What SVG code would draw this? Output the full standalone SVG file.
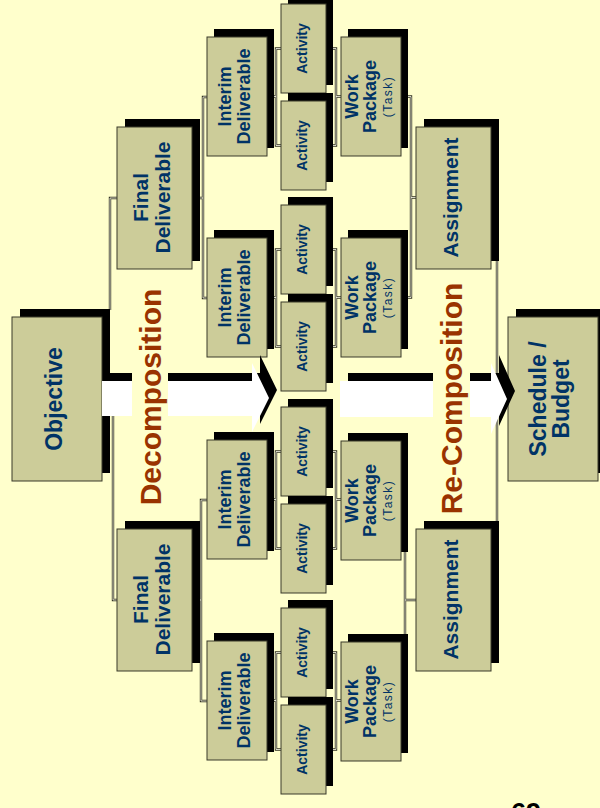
<svg xmlns="http://www.w3.org/2000/svg" width="600" height="808" viewBox="0 0 600 808">
<style>
.sh{fill:#000}
.bx{fill:#CCCC99;stroke:#3a3a2a;stroke-width:1}
.lo{fill:none;stroke:#333322;stroke-width:2.4}
.li{fill:none;stroke:#FFFFEE;stroke-width:0.8}
.t{font-family:"Liberation Sans",Arial,sans-serif;font-weight:bold;fill:#003366;text-anchor:middle}
.f23{font-size:23px}.f21{font-size:21px}.f18{font-size:18px}.f14{font-size:14px}
.tk{font-size:12px;font-weight:normal;letter-spacing:1.5px}
.big{font-family:"Liberation Sans",Arial,sans-serif;font-weight:bold;font-size:30px;fill:#993300;text-anchor:middle}
.gap{fill:#FFFFCC}
</style>
<defs>
<g id="act"><rect class="sh" x="7" y="-8" width="45" height="89"/><rect class="bx" x="0" y="0" width="45" height="89"/><text class="t f14" transform="translate(26,44.5) rotate(-90)">Activity</text></g>
<g id="int"><rect class="sh" x="7" y="-8" width="60" height="119"/><rect class="bx" x="0" y="0" width="60" height="119"/><text class="t f18" transform="translate(24,59.5) rotate(-90)">Interim</text><text class="t f18" transform="translate(43,59.5) rotate(-90)">Deliverable</text></g>
<g id="wp"><rect class="sh" x="7" y="-8" width="60" height="119"/><rect class="bx" x="0" y="0" width="60" height="119"/><text class="t f18" transform="translate(17,59.5) rotate(-90)">Work</text><text class="t f18" transform="translate(35,59.5) rotate(-90)">Package</text><text class="t tk" transform="translate(51,59.5) rotate(-90)">(Task)</text></g>
<g id="fd"><rect class="sh" x="8" y="-8" width="75" height="142"/><rect class="bx" x="0" y="0" width="75" height="142"/><text class="t f21" transform="translate(31,70.5) rotate(-90)">Final</text><text class="t f21" transform="translate(53,70.5) rotate(-90)">Deliverable</text></g>
<g id="as"><rect class="sh" x="8" y="-8" width="75" height="142"/><rect class="bx" x="0" y="0" width="75" height="142"/><text class="t f21" transform="translate(42,70.5) rotate(-90)">Assignment</text></g>
</defs>
<rect width="600" height="808" fill="#FFFFCC"/>

<g id="connectors">
<path class="lo" d="M117,198 H110 V310 M113,416 V600 H117 M199,198 H203 M207,97 H203 V298 H207 M199,600 H201 M207,500 H201 V701 H207 M273,96.5 H276 M281,48.5 H276 V145.5 H281 M273,297.5 H276 M281,249.5 H276 V346.5 H281 M273,499.5 H276 M281,451.5 H276 V548.5 H281 M273,700.5 H276 M281,652.5 H276 V749.5 H281 M333,48.5 H336 V145.5 H333 M336,96.5 H341 M333,249.5 H336 V346.5 H333 M336,297.5 H341 M333,451.5 H336 V548.5 H333 M336,499.5 H341 M333,652.5 H336 V749.5 H333 M336,700.5 H341 M408,96.5 H411 V297.5 H408 M411,197.5 H416 M408,500 H405 V701 H408 M405,600 H417 M491,197.5 H497 V600 H491 M497,399 H508"/>
<path class="li" d="M117,198 H110 V310 M113,416 V600 H117 M199,198 H203 M207,97 H203 V298 H207 M199,600 H201 M207,500 H201 V701 H207 M273,96.5 H276 M281,48.5 H276 V145.5 H281 M273,297.5 H276 M281,249.5 H276 V346.5 H281 M273,499.5 H276 M281,451.5 H276 V548.5 H281 M273,700.5 H276 M281,652.5 H276 V749.5 H281 M333,48.5 H336 V145.5 H333 M336,96.5 H341 M333,249.5 H336 V346.5 H333 M336,297.5 H341 M333,451.5 H336 V548.5 H333 M336,499.5 H341 M333,652.5 H336 V749.5 H333 M336,700.5 H341 M408,96.5 H411 V297.5 H408 M411,197.5 H416 M408,500 H405 V701 H408 M405,600 H417 M491,197.5 H497 V600 H491 M497,399 H508"/>
</g>

<g id="objective"><rect class="sh" x="20" y="309" width="90" height="164"/><rect class="bx" x="12" y="317" width="90" height="164"/><text class="t f23" transform="translate(62,399) rotate(-90)">Objective</text></g>
<g id="fd1"><use href="#fd" x="117" y="127"/></g>
<g id="fd2"><use href="#fd" x="117" y="529"/></g>
<g id="int1"><use href="#int" x="207" y="37"/></g>
<g id="int2"><use href="#int" x="207" y="238"/></g>
<g id="int3"><use href="#int" x="207" y="440"/></g>
<g id="int4"><use href="#int" x="207" y="641"/></g>
<g id="act1"><use href="#act" x="281" y="4"/></g>
<g id="act2"><use href="#act" x="281" y="101"/></g>
<g id="act3"><use href="#act" x="281" y="205"/></g>
<g id="act4"><use href="#act" x="281" y="302"/></g>
<g id="act5"><use href="#act" x="281" y="407"/></g>
<g id="act6"><use href="#act" x="281" y="504"/></g>
<g id="act7"><use href="#act" x="281" y="608"/></g>
<g id="act8"><use href="#act" x="281" y="705"/></g>
<g id="wp1"><use href="#wp" x="341" y="37"/></g>
<g id="wp2"><use href="#wp" x="341" y="238"/></g>
<g id="wp3"><use href="#wp" x="341" y="441"/></g>
<g id="wp4"><use href="#wp" x="341" y="642"/></g>
<g id="as1"><use href="#as" x="416" y="127"/></g>
<g id="as2"><use href="#as" x="416" y="529"/></g>
<g id="schedule"><rect class="sh" x="516" y="309" width="90" height="164"/><rect class="bx" x="508" y="317" width="90" height="164"/><text class="t f23" transform="translate(546,399) rotate(-90)">Schedule /</text><text class="t f23" transform="translate(569,399) rotate(-90)">Budget</text></g>

<g id="decomposition">
<polygon class="sh" points="110,373 260,373 260,355 277,390 260,424 260,408 110,408"/>
<polygon fill="#fff" points="102,381 252,381 252,363 269,398 252,432 252,416 102,416"/>
<rect class="gap" x="132" y="286" width="36" height="224"/>
<text class="big" transform="translate(161,397) rotate(-90)">Decomposition</text>
</g>
<g id="recomposition">
<polygon class="sh" points="348,373 499,373 499,355 515,391 499,426 499,409 348,409"/>
<polygon fill="#fff" points="340,381 491,381 491,363 507,399 491,434 491,417 340,417"/>
<rect class="gap" x="433" y="282" width="37" height="232"/>
<text class="big" transform="translate(462,398.5) rotate(-90)">Re-Composition</text>
</g>
<text x="511" y="822" font-family="Liberation Sans, Arial, sans-serif" font-weight="bold" font-size="27" fill="#000">69</text>
</svg>
